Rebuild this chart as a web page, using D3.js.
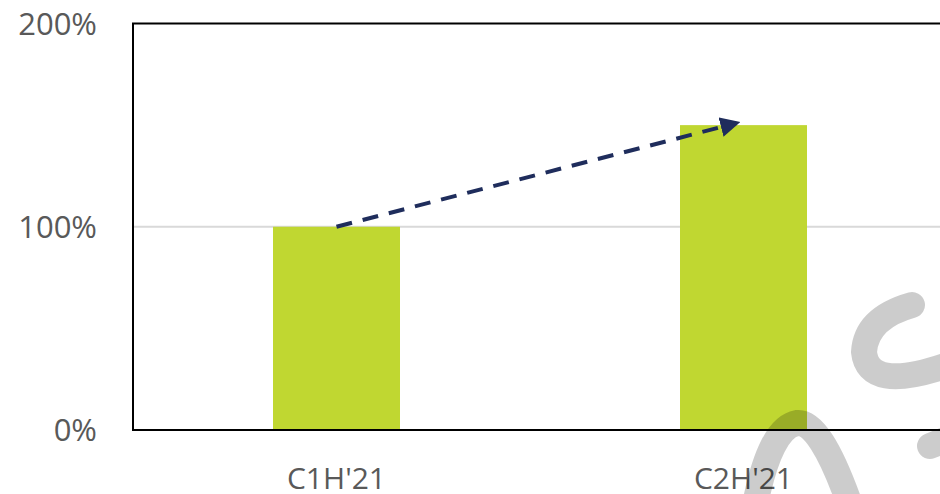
<!DOCTYPE html>
<html>
<head>
<meta charset="utf-8">
<script src="https://cdn.jsdelivr.net/npm/d3@7"></script>
<style>
  body { margin: 0; background: #fff; }
  svg { display: block; font-family: "Open Sans", sans-serif; }
</style>
</head>
<body>
<div id="container"></div>
<script>
/* DATA */
const categories = ["C1H'21", "C2H'21"];
const values = [100, 150];
const yTicks = [0, 100, 200];
const trendFrom = 100, trendTo = 151;

/* LAYOUT */
const W = 940, H = 494;
const margin = {top: 23.5, right: -7, bottom: 64, left: 133};
const width = W - margin.left - margin.right,
      height = H - margin.top - margin.bottom;

const svg = d3.select("#container").append("svg")
  .attr("width", W).attr("height", H);

// arrow marker
svg.append("defs").append("marker")
  .attr("id", "arrow")
  .attr("viewBox", "0 0 10 10")
  .attr("refX", 8).attr("refY", 5)
  .attr("markerWidth", 5).attr("markerHeight", 5)
  .attr("markerUnits", "strokeWidth")
  .attr("orient", "auto")
  .append("path").attr("d", "M0,0 L10,5 L0,10 Z").attr("fill", "#1f2d5c");

const g = svg.append("g")
  .attr("transform", "translate(" + margin.left + "," + margin.top + ")");

/* SCALES */
const xScale = d3.scaleBand().domain(categories).range([0, width]).padding(0);
const yScale = d3.scaleLinear().domain([0, 200]).range([height, 0]);
const barW = xScale.bandwidth() * 0.312;

// gridlines
g.selectAll("line.grid")
  .data(yTicks.filter(d => d > 0 && d < 200))
  .join("line")
  .attr("class", "grid")
  .attr("x1", 0).attr("x2", width)
  .attr("y1", d => yScale(d)).attr("y2", d => yScale(d))
  .attr("stroke", "#d9d9d9").attr("stroke-width", 2);

// bars
g.selectAll("rect.bar")
  .data(values)
  .join("rect")
  .attr("class", "bar")
  .attr("x", (d, i) => xScale(categories[i]) + xScale.bandwidth() / 2 - barW / 2)
  .attr("y", d => yScale(d))
  .attr("width", barW)
  .attr("height", d => height - yScale(d))
  .attr("fill", "#c0d731");

// frame
g.append("rect")
  .attr("x", 0).attr("y", 0)
  .attr("width", width).attr("height", height)
  .attr("fill", "none").attr("stroke", "#000").attr("stroke-width", 2);

// trend arrow
const cx = c => xScale(c) + xScale.bandwidth() / 2;
g.append("line")
  .attr("x1", cx(categories[0])).attr("y1", yScale(trendFrom))
  .attr("x2", cx(categories[1]) - 7).attr("y2", yScale(trendTo))
  .attr("stroke", "#1f2d5c").attr("stroke-width", 4)
  .attr("stroke-dasharray", "16,11")
  .attr("marker-end", "url(#arrow)");

// y axis labels
g.selectAll("text.ytick")
  .data(yTicks)
  .join("text")
  .attr("class", "ytick")
  .attr("x", -36).attr("y", d => yScale(d))
  .attr("dy", "0.36em")
  .attr("text-anchor", "end")
  .attr("font-size", 31)
  .attr("fill", "#595959")
  .text(d => d + "%");

// x axis labels
g.selectAll("text.xtick")
  .data(categories)
  .join("text")
  .attr("class", "xtick")
  .attr("x", d => cx(d))
  .attr("y", height + 59)
  .attr("text-anchor", "middle")
  .attr("font-size", 30)
  .attr("fill", "#595959")
  .text(d => d);

// watermark strokes
const wm = svg.append("g")
  .attr("fill", "none").attr("stroke", "#000").attr("stroke-opacity", 0.2)
  .attr("stroke-width", 26).attr("stroke-linecap", "round");
wm.append("path").attr("d", "M912,305 Q866,318 864,352 Q868,392 945,366");
wm.append("path").attr("d", "M755,505 Q770,428 797,423 Q820,420 850,505");
wm.append("path").attr("d", "M930,446 L950,438");
</script>
</body>
</html>
